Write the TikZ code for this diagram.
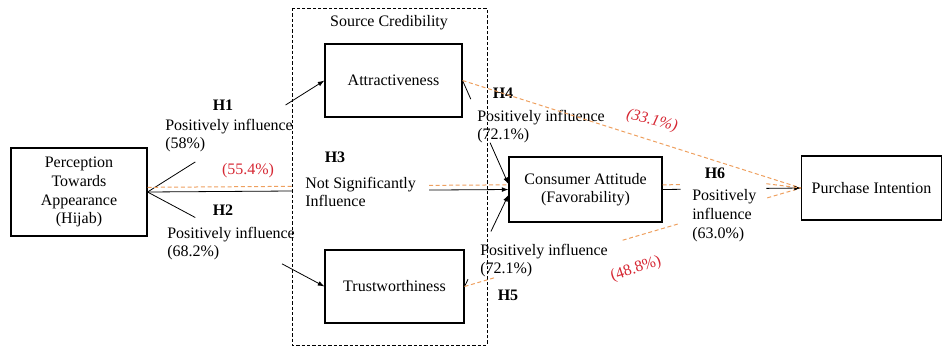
\documentclass[tikz,border=0pt]{standalone}
\usepackage{fontspec}
\setmainfont{Liberation Serif}
\usetikzlibrary{positioning, arrows.meta, calc}
\definecolor{pctred}{RGB}{214,40,52}
\definecolor{pathorange}{RGB}{238,160,95}

\begin{document}
\begin{tikzpicture}[x=0.75pt, y=-0.75pt,
		font=\fontsize{12}{13.5}\selectfont,
		>={Latex[length=5pt,width=3.6pt]},
		box/.style={draw, line width=0.8pt, inner sep=0pt, align=center},
		hyp/.style={font=\fontsize{12}{13.5}\selectfont\bfseries, inner sep=0pt},
		lbl/.style={anchor=west, align=left, inner sep=0pt},
		pct/.style={text=pctred, inner sep=0pt},
		conn/.style={line width=0.6pt},
		est/.style={pathorange, line width=0.75pt, dash pattern=on 3pt off 2pt}]
		\useasboundingbox (0,0) rectangle (943,354);
		\draw[line width=0.6pt, dash pattern=on 2.5pt off 1.5pt] (292,8) rectangle (487,345);
		\node[inner sep=0pt] (cred) at (389,23) {Source Credibility};
		\node[box, minimum width=102pt, minimum height=66pt, font=\fontsize{12}{14.2}\selectfont] (perc) at (79,192) {Perception\\Towards\\Appearance\\(Hijab)};
		\node[box, minimum width=102.75pt, minimum height=54.75pt] (attr) at (393.5,80.5) {Attractiveness};
		\node[box, minimum width=104.25pt, minimum height=54.75pt] (trust) at (394.5,286.5) {Trustworthiness};
		\node[box, minimum width=114.75pt, minimum height=48.75pt] (cons) at (585.5,189.5) {Consumer Attitude\\(Favorability)};
		\node[box, minimum width=105pt, minimum height=48pt] (purch) at (871.5,188) {Purchase Intention};
		\node[hyp] (h1) at (223,105) {H1};
		\node[lbl] (l1) at (165,136) {Positively influence\\(58\%)};
		\node[pct] (p3) at (248,171) {(55.4\%)};
		\node[hyp] (h2) at (223,210) {H2};
		\node[lbl] (l2) at (167,244) {Positively influence\\(68.2\%)};
		\node[hyp] (h3) at (335,157) {H3};
		\node[lbl] (l3) at (305,192) {Not Significantly\\Influence};
		\node[hyp] (h4) at (503,93) {H4};
		\node[lbl] (l4) at (477,127) {Positively influence\\(72.1\%)};
		\node[pct, font=\fontsize{12}{13.5}\selectfont\itshape, rotate=-14] (p4) at (652,121) {(33.1\%)};
		\node[hyp] (h5) at (508,295) {H5};
		\node[lbl] (l5) at (480,261) {Positively influence\\(72.1\%)};
		\node[pct, rotate=18] (p5) at (636,269) {(48.8\%)};
		\node[hyp] (h6) at (715,173) {H6};
		\node[lbl, font=\fontsize{12}{14.2}\selectfont] (l6) at (692,216) {Positively\\influence\\(63.0\%)};
		% H1
		\path (perc.east) -- (attr.west) coordinate[pos=.27] (h1a) coordinate[pos=.78] (h1b);
		\draw[conn] (perc.east) -- (h1a);
		\draw[conn, ->] (h1b) -- (attr.west);
		% H2
		\path (perc.east) -- (trust.west) coordinate[pos=.27] (h2a) coordinate[pos=.76] (h2b);
		\draw[conn] (perc.east) -- (h2a);
		\draw[conn, ->] (h2b) -- (trust.west);
		% H3
		\path (perc.east) -- (cons.west) coordinate[pos=.40] (h3a) coordinate[pos=.78] (h3b);
		\draw[conn] (perc.east) -- (h3a);
		\draw[conn, ->] (h3b) -- (cons.west);
		\draw[est] ([yshift=3.5pt]perc.east) -- ([yshift=3.5pt]h3a);
		\draw[est] ([yshift=3.5pt]h3b) -- ([yshift=3.5pt]cons.west);
		% H4
		\coordinate (c4) at ([yshift=4pt]cons.west);
		\path (attr.east) -- (c4) coordinate[pos=.18] (h4a) coordinate[pos=.6] (h4b);
		\draw[conn] (attr.east) -- (h4a);
		\draw[conn, ->] (h4b) -- (c4);
		\draw[est] (attr.east) -- (purch.west);
		% H5
		\coordinate (c5) at ([yshift=-4pt]cons.west);
		\path (trust.east) -- (c5) coordinate[pos=.08] (h5a) coordinate[pos=.6] (h5b);
		\draw[conn] (trust.east) -- (h5a);
		\draw[conn, ->] (h5b) -- (c5);
		\path (trust.east) -- (purch.west) coordinate[pos=.09] (e5a) coordinate[pos=.47] (e5b) coordinate[pos=.64] (e5c) coordinate[pos=.9] (e5d);
		\draw[est] (trust.east) -- (e5a);
		\draw[est] (e5b) -- (e5c);
		\draw[est] (e5d) -- (purch.west);
		% H6
		\path (cons.east) -- (purch.west) coordinate[pos=.13] (h6a) coordinate[pos=.75] (h6b);
		\draw[conn] (cons.east) -- (h6a);
		\draw[conn, ->] (h6b) -- (purch.west);
		\draw[est] ([yshift=3.5pt]cons.east) -- ([yshift=3.5pt]h6a);
		\draw[est] ([yshift=3.5pt]h6b) -- (purch.west);
	\end{tikzpicture}
\end{document}
